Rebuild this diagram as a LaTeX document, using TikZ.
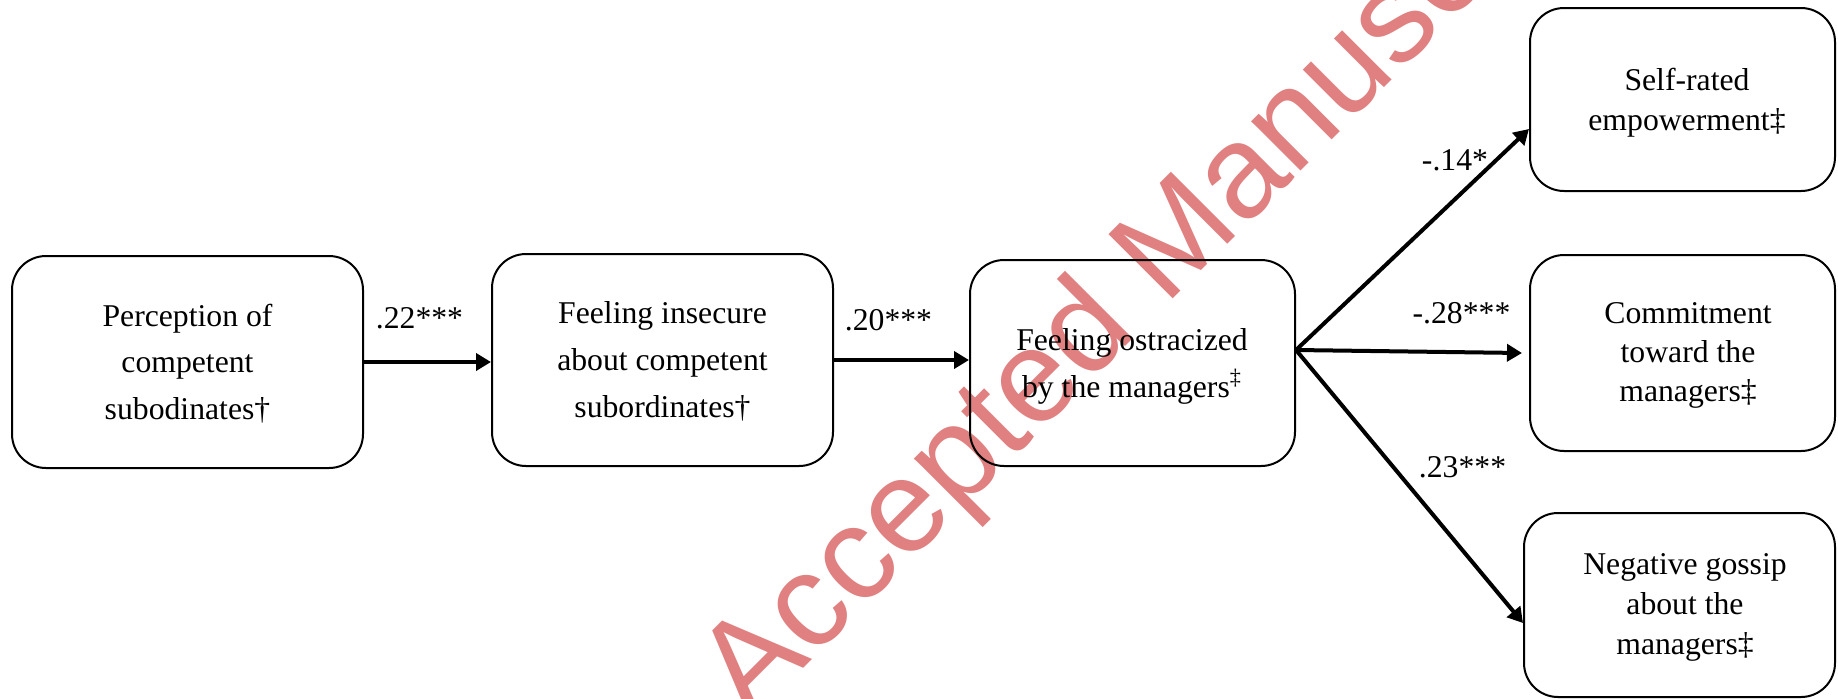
\documentclass[tikz,border=0pt]{standalone}
\usepackage{fontspec}
\setmainfont{Liberation Serif}
\newfontfamily\wmfont{Liberation Sans}
\usetikzlibrary{arrows.meta}
\definecolor{wmred}{RGB}{224,128,128}
\begin{document}
\begin{tikzpicture}[x=0.5pt,y=-0.5pt,
  box/.style={draw, line width=1pt, rounded corners=17pt, inner sep=0pt},
  txt/.style={align=center, inner sep=0pt},
  lbl/.style={inner sep=0pt, anchor=base, font=\fontsize{15.85pt}{19pt}\selectfont},
  arr/.style={line width=2pt, -{Triangle[length=7.5pt,width=8.5pt]}},
  wm/.style={inner sep=0pt, anchor=base west, rotate=45, text=wmred,
    font=\wmfont\fontsize{66pt}{79pt}\selectfont}]
\useasboundingbox (0,0) rectangle (1838,698);
% watermark
\begin{scope}
\clip (0,0) rectangle (1838,698);
\node[wm] (wmark) at (750,722) {Accepted Manuscript};
\end{scope}
% boxes
\node[box, minimum width=175.5pt, minimum height=106pt] (b1) at (187.5,362) {};
\node[box, minimum width=170.5pt, minimum height=106pt] (b2) at (662.5,360) {};
\node[box, minimum width=162.5pt, minimum height=103pt] (b3) at (1132.5,363) {};
\node[box, minimum width=152.5pt, minimum height=91.5pt] (r1) at (1682.5,99.5) {};
\node[box, minimum width=152.5pt, minimum height=98pt] (r2) at (1682.5,353) {};
\node[box, minimum width=155.5pt, minimum height=92pt] (r3) at (1679.5,605) {};
% texts
\node[txt, font=\fontsize{15.85pt}{23.35pt}\selectfont] (t1) at (187.5,363.5) {Perception of\\competent\\subodinates†};
\node[txt, font=\fontsize{15.85pt}{23.35pt}\selectfont] (t2) at (662.5,361.5) {Feeling insecure\\about competent\\subordinates†};
\node[txt, font=\fontsize{15.85pt}{23.5pt}\selectfont] (t3) at (1132,366) {Feeling ostracized\\by the managers\textsuperscript{‡}};
\node[txt, font=\fontsize{15.85pt}{20pt}\selectfont] (t4) at (1687,103) {Self-rated\\empowerment‡};
\node[txt, font=\fontsize{15.85pt}{19.6pt}\selectfont] (t5) at (1688,355.3) {Commitment\\toward the\\managers‡};
\node[txt, font=\fontsize{15.85pt}{20pt}\selectfont] (t6) at (1685,607.6) {Negative gossip\\about the\\managers‡};
% branch point
\coordinate (br) at ([yshift=6.5pt]b3.east);
% arrows
\draw[arr] (b1.east) -- (b1.east -| b2.west);
\draw[arr] (b2.east) -- (b2.east -| b3.west);
\draw[arr] (br) -- ([yshift=-14.75pt]r1.west);
\draw[arr] (br) -- ([xshift=-3.5pt]r2.west);
\draw[arr] (br) -- ([yshift=-9pt]r3.west);
% labels
\node[lbl] (l1) at (419.5,328) {.22***};
\node[lbl] (l2) at (888.5,330) {.20***};
\node[lbl] (l3) at (1455,170.5) {-.14*};
\node[lbl] (l4) at (1461.5,323.7) {-.28***};
\node[lbl] (l5) at (1462.5,477.7) {.23***};
\end{tikzpicture}
\end{document}
